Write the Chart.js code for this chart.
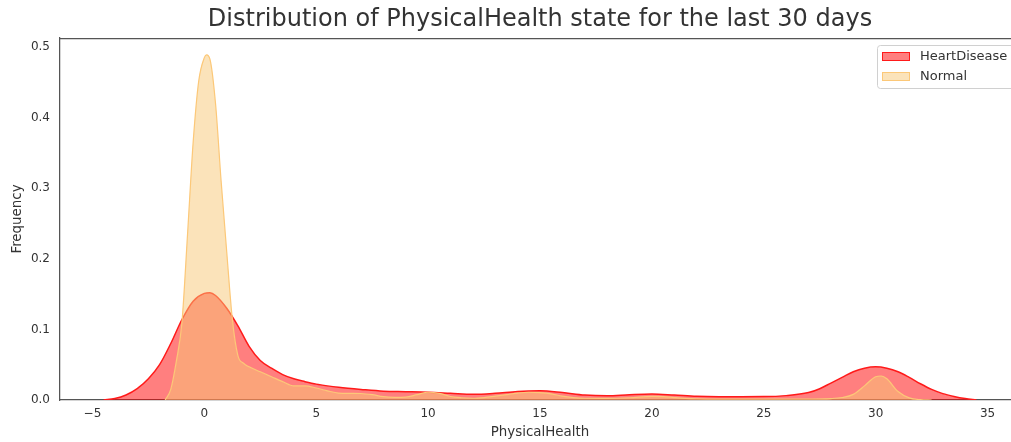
<!DOCTYPE html>
<html>
<head>
<meta charset="utf-8">
<title>Distribution of PhysicalHealth</title>
<script src="https://cdn.jsdelivr.net/npm/chart.js@4/dist/chart.umd.min.js"></script>
<style>
    html, body { margin: 0; padding: 0; background: #fff; overflow: hidden; }
    #wrap { width: 1011px; height: 442px; overflow: hidden; }
</style>
</head>
<body>
<div id="wrap"><canvas id="kdeChart" width="1020" height="442"></canvas></div>
<script>
// KDE curves
const heartX = [-4.5, -4, -3.5, -3, -2.5, -2, -1.5, -1, -0.5, 0, 0.25, 0.5, 1, 1.5, 2, 2.5, 3, 3.5, 4, 4.5,
    5, 5.5, 6, 7, 8, 9, 10, 11, 12, 13, 14, 15, 16, 17, 18, 19, 20, 21, 22, 23, 24, 25, 26, 27, 27.5,
    28, 28.5, 29, 29.5, 30, 30.5, 31, 31.5, 32, 32.5, 33, 33.5, 34, 34.5];
const heartY = [0, 0.002, 0.007, 0.016, 0.03, 0.05, 0.08, 0.114, 0.14, 0.151, 0.152, 0.148, 0.13, 0.105, 0.076, 0.056, 0.045, 0.036, 0.03, 0.026,
    0.0225, 0.02, 0.018, 0.015, 0.0125, 0.0118, 0.011, 0.0095, 0.008, 0.0095, 0.0122, 0.013, 0.0105, 0.007, 0.006, 0.0075, 0.0085, 0.007, 0.0052, 0.0047, 0.0047, 0.0048, 0.0062, 0.0105, 0.016,
    0.024, 0.032, 0.04, 0.045, 0.047, 0.045, 0.04, 0.032, 0.023, 0.015, 0.009, 0.005, 0.002, 0];

const normalX = [-1.75, -1.5, -1.25, -1, -0.75, -0.5, -0.25, 0, 0.1, 0.25, 0.5, 0.75, 1, 1.25, 1.5, 1.75, 2, 2.5, 3, 3.5,
    4, 4.5, 5, 5.5, 6, 6.5, 7, 7.5, 8, 8.5, 9, 9.5, 10, 10.5, 11, 11.5, 12, 12.5, 13, 13.5, 14, 14.5, 15, 15.5,
    16, 16.5, 17, 18, 19, 20, 20.5, 21, 21.5, 22, 23, 24, 25, 26, 27, 28, 28.5, 29, 29.5, 30, 30.25, 30.5,
    31, 31.5, 32, 32.5];
const normalY = [0, 0.015, 0.055, 0.11, 0.235, 0.365, 0.452, 0.485, 0.489, 0.483, 0.42, 0.31, 0.21, 0.115, 0.063, 0.052, 0.047, 0.04, 0.033, 0.026,
    0.02, 0.02, 0.017, 0.013, 0.0098, 0.0094, 0.0092, 0.0075, 0.0047, 0.0038, 0.0042, 0.0075, 0.011, 0.0095, 0.005, 0.0032, 0.0025, 0.0035, 0.0055, 0.0075, 0.0098, 0.011, 0.0105, 0.0088,
    0.0055, 0.0035, 0.0025, 0.0024, 0.0032, 0.005, 0.0048, 0.0035, 0.0024, 0.0018, 0.0014, 0.0014, 0.0014, 0.0014, 0.0014, 0.002, 0.0035, 0.008, 0.02, 0.033, 0.034, 0.03,
    0.012, 0.003, 0.0005, 0];

const seriesLabels = ['HeartDisease', 'Normal'];
const chartTitle = 'Distribution of PhysicalHealth state for the last 30 days';
const xTickStep = 5;
const yTickStep = 0.1;

const FONT = '"DejaVu Sans", sans-serif';
const TEXT_COLOR = '#333';
const SPINE_COLOR = '#555';

const heartFill = 'rgba(255, 0, 0, 0.5)';
const heartLine = '#ff1a1a';
const normalFill = 'rgba(248, 200, 118, 0.5)';
const normalLine = '#fcc878';

function toPoints(xs, ys) {
    return xs.map((x, i) => ({ x: x, y: ys[i] }));
}

/**
 * Title centred over the axes, top spine and the boxed legend in the upper right
 */
const decorPlugin = {
    id: 'decor',
    afterDraw(chart) {
        const ctx = chart.ctx;
        const area = chart.chartArea;
        ctx.save();

        // title (matplotlib centres it on the axes, not on the figure)
        ctx.font = '24px ' + FONT;
        ctx.fillStyle = TEXT_COLOR;
        ctx.textAlign = 'center';
        ctx.textBaseline = 'middle';
        ctx.fillText(chartTitle, (area.left + area.right) / 2, 19.5);

        // top spine
        ctx.strokeStyle = SPINE_COLOR;
        ctx.lineWidth = 1.25;
        ctx.beginPath();
        ctx.moveTo(area.left, area.top + 0.5);
        ctx.lineTo(area.right, area.top + 0.5);
        ctx.stroke();

        // legend box
        const bx = 877.5, by = 45.5, bw = 140, bh = 43;
        ctx.fillStyle = 'rgba(255,255,255,0.8)';
        ctx.strokeStyle = '#d0d0d0';
        ctx.lineWidth = 1;
        ctx.beginPath();
        ctx.roundRect(bx, by, bw, bh, 3);
        ctx.fill();
        ctx.stroke();

        const items = [
            { label: seriesLabels[0], fill: heartFill, line: heartLine, y: 52 },
            { label: seriesLabels[1], fill: normalFill, line: normalLine, y: 72 },
        ];
        ctx.font = '13px ' + FONT;
        ctx.textAlign = 'left';
        items.forEach(item => {
            ctx.fillStyle = item.fill;
            ctx.fillRect(882, item.y, 28, 9);
            ctx.strokeStyle = item.line;
            ctx.lineWidth = 1;
            ctx.strokeRect(882.5, item.y + 0.5, 27, 8);
            ctx.fillStyle = TEXT_COLOR;
            ctx.fillText(item.label, 920, item.y + 4.5);
        });
        ctx.restore();
    },
};

const ctx = document.getElementById('kdeChart');

new Chart(ctx, {
    type: 'line',
    data: {
        datasets: [
            {
                label: seriesLabels[0],
                data: toPoints(heartX, heartY),
                borderColor: heartLine,
                backgroundColor: heartFill,
                borderWidth: 1.5,
                fill: 'origin',
                order: 2,
            },
            {
                label: seriesLabels[1],
                data: toPoints(normalX, normalY),
                borderColor: normalLine,
                backgroundColor: normalFill,
                borderWidth: 1.2,
                fill: 'origin',
                order: 1,
            },
        ],
    },
    options: {
        responsive: false,
        animation: false,
        layout: { padding: { top: 38, left: 0, right: 0, bottom: 0 } },
        elements: {
            point: { radius: 0 },
            line: { cubicInterpolationMode: 'monotone' },
        },
        plugins: {
            legend: { display: false },
            tooltip: { enabled: false },
            title: { display: false },
        },
        scales: {
            x: {
                type: 'linear',
                min: -6.45,
                max: 36.45,
                grid: { display: false, drawTicks: false, tickLength: 0 },
                border: { display: true, color: SPINE_COLOR, width: 1.25 },
                ticks: {
                    stepSize: xTickStep,
                    includeBounds: false,
                    color: TEXT_COLOR,
                    padding: 7,
                    maxRotation: 0,
                    font: { family: FONT, size: 12 },
                    callback: (value) => value < 0 ? '\u2212' + Math.abs(value) : String(value),
                },
                title: {
                    display: true,
                    text: 'PhysicalHealth',
                    color: TEXT_COLOR,
                    font: { family: FONT, size: 13.4 },
                    padding: { top: 2, bottom: 1 },
                },
                afterFit: (scale) => { scale.height = 42; },
            },
            y: {
                min: 0,
                max: 0.5128,
                grid: { display: false, drawTicks: false, tickLength: 0 },
                border: { display: true, color: SPINE_COLOR, width: 1.25 },
                ticks: {
                    stepSize: yTickStep,
                    includeBounds: false,
                    color: TEXT_COLOR,
                    padding: 10,
                    font: { family: FONT, size: 12 },
                    callback: (value) => value.toFixed(1),
                },
                title: {
                    display: true,
                    text: 'Frequency',
                    color: TEXT_COLOR,
                    font: { family: FONT, size: 13.4 },
                    padding: { top: 9, bottom: 0 },
                },
                afterFit: (scale) => { scale.width = 60; },
            },
        },
    },
    plugins: [decorPlugin],
});
</script>
</body>
</html>
